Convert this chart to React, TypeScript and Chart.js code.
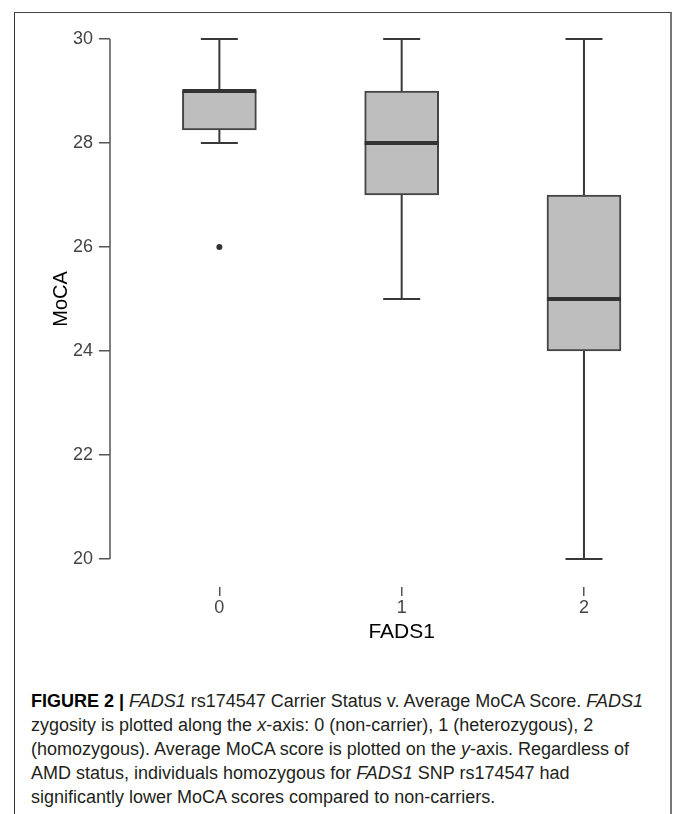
import React, { useEffect, useRef } from 'react';
import { Chart, registerables } from 'chart.js';

Chart.register(...registerables);

// ---- data ----
const categories = ['0', '1', '2'];
const whiskerLow = [28, 25, 20];
const quartile1 = [28.25, 27, 24];
const medians = [29, 28, 25];
const quartile3 = [29, 29, 27];
const whiskerHigh = [30, 30, 30];
const outlierGroup = [0];
const outlierValue = [26];
const yTicks = [20, 22, 24, 26, 28, 30];
const xTitle = 'FADS1';
const yTitle = 'MoCA';

const BOX_WIDTH = 74;
const FONT = '"Liberation Sans", Arial, Helvetica, sans-serif';

const boxExtras = {
  id: 'boxExtras',
  afterDatasetsDraw(chart: any) {
    const { ctx, scales } = chart;
    const x = scales.x;
    const y = scales.y;
    ctx.save();
    ctx.lineCap = 'butt';
    const line = (x1: number, y1: number, x2: number, y2: number) => {
      ctx.beginPath();
      ctx.moveTo(x1, y1);
      ctx.lineTo(x2, y2);
      ctx.stroke();
    };
    categories.forEach((_, i) => {
      const cx = x.getPixelForValue(i);
      const half = BOX_WIDTH / 2;
      const cap = BOX_WIDTH / 4;
      ctx.strokeStyle = '#383838';
      ctx.lineWidth = 2;
      line(cx, y.getPixelForValue(quartile3[i]), cx, y.getPixelForValue(whiskerHigh[i]));
      line(cx - cap, y.getPixelForValue(whiskerHigh[i]), cx + cap, y.getPixelForValue(whiskerHigh[i]));
      line(cx, y.getPixelForValue(quartile1[i]), cx, y.getPixelForValue(whiskerLow[i]));
      line(cx - cap, y.getPixelForValue(whiskerLow[i]), cx + cap, y.getPixelForValue(whiskerLow[i]));
      ctx.strokeStyle = '#333';
      ctx.lineWidth = 4;
      const my = y.getPixelForValue(medians[i]);
      line(cx - half, my, cx + half, my);
    });
    // y axis bracket line
    ctx.strokeStyle = '#555';
    ctx.lineWidth = 1.5;
    const ax = chart.chartArea.left;
    line(ax, y.getPixelForValue(yTicks[0]), ax, y.getPixelForValue(yTicks[yTicks.length - 1]));
    // titles
    ctx.fillStyle = '#000';
    ctx.textAlign = 'center';
    ctx.textBaseline = 'middle';
    ctx.font = `21px ${FONT}`;
    const tx = (x.getPixelForValue(0) + x.getPixelForValue(categories.length - 1)) / 2;
    ctx.fillText(xTitle, tx, x.bottom - 21);
    ctx.font = `20px ${FONT}`;
    const ty = (y.getPixelForValue(yTicks[0]) + y.getPixelForValue(yTicks[yTicks.length - 1])) / 2;
    ctx.translate(46, ty);
    ctx.rotate(-Math.PI / 2);
    ctx.fillText(yTitle, 0, 0);
    ctx.restore();
  },
};

function ChartBox() {
  const ref = useRef<HTMLCanvasElement>(null);
  useEffect(() => {
    if (!ref.current) return;
    const chart = new Chart(ref.current, {
      type: 'bar',
      data: {
        datasets: [
          {
            type: 'bar',
            data: categories.map((_, i) => ({ x: i, y: [quartile1[i], quartile3[i]] })) as any,
            backgroundColor: '#bebebe',
            borderColor: '#454545',
            borderWidth: 2,
            borderSkipped: false,
            barThickness: BOX_WIDTH,
          } as any,
          {
            type: 'scatter',
            data: outlierGroup.map((g, i) => ({ x: g, y: outlierValue[i] })),
            pointRadius: 3,
            backgroundColor: '#333',
            borderWidth: 0,
          } as any,
        ],
      },
      options: {
        responsive: false,
        animation: false,
        events: [],
        layout: { padding: { top: 26, left: 0, right: 0, bottom: 0 } },
        plugins: { legend: { display: false }, tooltip: { enabled: false } },
        scales: {
          x: {
            type: 'linear',
            min: -0.6,
            max: 2.45,
            offset: false,
            afterBuildTicks: (s: any) => {
              s.ticks = categories.map((_, i) => ({ value: i }));
            },
            afterFit: (s: any) => {
              s.height = 66;
            },
            ticks: {
              autoSkip: false,
              maxRotation: 0,
              padding: 1,
              color: '#444',
              font: { family: FONT, size: 18 },
              callback: (v: any) => categories[v as number] ?? '',
            },
            grid: {
              offset: false,
              drawOnChartArea: false,
              drawTicks: true,
              tickLength: 9,
              color: '#555',
              lineWidth: 1.5,
            },
            border: { display: false },
          },
          y: {
            type: 'linear',
            min: 19.46,
            max: 30,
            afterBuildTicks: (s: any) => {
              s.ticks = yTicks.map((v) => ({ value: v }));
            },
            afterFit: (s: any) => {
              s.width = 95;
            },
            ticks: {
              autoSkip: false,
              padding: 6,
              color: '#444',
              font: { family: FONT, size: 18 },
              callback: (v: any) => String(v),
            },
            grid: { offset: false, drawOnChartArea: false, drawTicks: true, tickLength: 11, color: '#555', lineWidth: 1.5 },
            border: { display: false },
          },
        },
      } as any,
      plugins: [boxExtras],
    });
    return () => chart.destroy();
  }, []);
  return <canvas ref={ref} width={655} height={640} />;
}

export default function App() {
  const lineStyle: React.CSSProperties = { whiteSpace: 'nowrap', height: 24, lineHeight: '24px' };
  return (
    <div style={{ position: 'absolute', left: 0, top: 0, width: 673, height: 814, overflow: 'hidden', background: '#fff' }}>
      <div
        style={{
          position: 'absolute',
          left: 14,
          top: 12,
          width: 655,
          height: 820,
          borderLeft: '1.5px solid #333',
          borderTop: '1.5px solid #444',
          borderRight: '2px solid #777',
        }}
      />
      <div style={{ position: 'absolute', left: 15, top: 13 }}>
        <ChartBox />
      </div>
      <div
        style={{
          position: 'absolute',
          left: 31,
          top: 689,
          fontFamily: FONT,
          fontSize: 18,
          color: '#231f20',
        }}
      >
        <div style={lineStyle}>
          <b style={{ color: '#000' }}>FIGURE 2 |</b> <i>FADS1</i> rs174547 Carrier Status v. Average MoCA Score. <i>FADS1</i>
        </div>
        <div style={lineStyle}>
          zygosity is plotted along the <i>x</i>-axis: 0 (non-carrier), 1 (heterozygous), 2
        </div>
        <div style={lineStyle}>
          (homozygous). Average MoCA score is plotted on the <i>y</i>-axis. Regardless of
        </div>
        <div style={lineStyle}>
          AMD status, individuals homozygous for <i>FADS1</i> SNP rs174547 had
        </div>
        <div style={lineStyle}>significantly lower MoCA scores compared to non-carriers.</div>
      </div>
    </div>
  );
}
